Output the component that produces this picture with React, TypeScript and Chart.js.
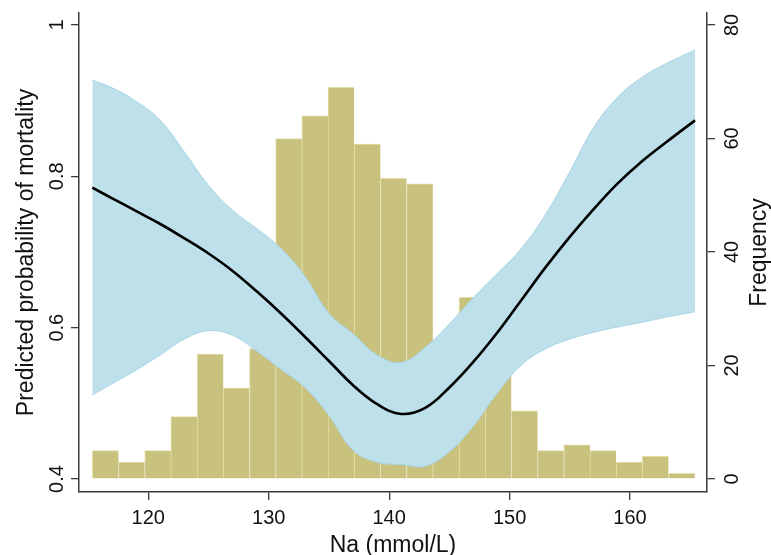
import { useEffect, useRef } from "react";
import { Chart, registerables } from "chart.js";

Chart.register(...registerables);

// ---- data ----
const naValues = [115.35, 117, 119, 121, 123, 125, 127, 129, 131, 133, 135, 137, 139, 141, 143, 145, 147, 149, 151, 153, 155, 157, 159, 161, 163, 165.4];
const predicted = [0.785, 0.771, 0.754, 0.737, 0.718, 0.698, 0.675, 0.648, 0.619, 0.588, 0.556, 0.524, 0.499, 0.486, 0.494, 0.521, 0.555, 0.594, 0.637, 0.680, 0.720, 0.757, 0.791, 0.820, 0.845, 0.874];
const upperCI = [0.927, 0.917, 0.899, 0.874, 0.832, 0.788, 0.755, 0.731, 0.705, 0.668, 0.619, 0.592, 0.564, 0.554, 0.574, 0.605, 0.640, 0.672, 0.705, 0.750, 0.806, 0.865, 0.905, 0.931, 0.949, 0.967];
const lowerCI = [0.511, 0.526, 0.544, 0.564, 0.585, 0.596, 0.590, 0.569, 0.545, 0.521, 0.484, 0.438, 0.422, 0.419, 0.417, 0.436, 0.470, 0.514, 0.551, 0.572, 0.585, 0.594, 0.601, 0.607, 0.614, 0.621];

const binCenters = [116.44, 118.61, 120.79, 122.96, 125.14, 127.31, 129.49, 131.66, 133.84, 136.01, 138.19, 140.36, 142.54, 144.71, 146.89, 149.06, 151.24, 153.41, 155.59, 157.76, 159.94, 162.11, 164.29];
const frequency = [5, 3, 5, 11, 22, 16, 23, 60, 64, 69, 59, 53, 52, 22, 32, 20, 12, 5, 6, 5, 3, 4, 1];

const xTicks = [120, 130, 140, 150, 160];
const xTickLabels = ["120", "130", "140", "150", "160"];
const yTicks = [0.4, 0.6, 0.8, 1];
const yTickLabels = ["0.4", "0.6", "0.8", "1"];
const y1Ticks = [0, 20, 40, 60, 80];
const y1TickLabels = ["0", "20", "40", "60", "80"];

const xTitle = "Na (mmol/L)";
const yTitle = "Predicted probability of mortality";
const y1Title = "Frequency";

// ---- styles ----
const FONT = '"Liberation Sans", Arial, Helvetica, sans-serif';
const AXIS = "#3a3a3a";
const TEXT = "#111111";
const BAR_FILL = "#C9C17E";
const BAR_EDGE = "#E3DDA6";
const BAND_FILL = "#BEE0EA";
const BAND_EDGE = "#A8D4E4";

const labelPlugin = {
  id: "axisLabels",
  afterDraw(chart: any) {
    const { ctx, chartArea, scales } = chart;
    const rot = (txt: string, x: number, y: number) => {
      ctx.save();
      ctx.translate(x, y);
      ctx.rotate(-Math.PI / 2);
      ctx.fillText(txt, 0, 0);
      ctx.restore();
    };
    ctx.save();
    ctx.fillStyle = TEXT;
    ctx.textAlign = "center";
    ctx.textBaseline = "alphabetic";
    ctx.font = `20px ${FONT}`;
    xTicks.forEach((v, i) => ctx.fillText(xTickLabels[i], scales.x.getPixelForValue(v), 524));
    yTicks.forEach((v, i) => rot(yTickLabels[i], 63, scales.y.getPixelForValue(v)));
    y1Ticks.forEach((v, i) => rot(y1TickLabels[i], 738, scales.y1.getPixelForValue(v)));
    ctx.font = `23px ${FONT}`;
    const cy = (chartArea.top + chartArea.bottom) / 2;
    ctx.fillText(xTitle, (chartArea.left + chartArea.right) / 2, 551.5);
    rot(yTitle, 33, cy);
    rot(y1Title, 766, cy);
    ctx.restore();
  },
};

const axisCommon = (fitter: (s: any) => void, ticks: number[], step: number) => ({
  type: "linear" as const,
  offset: false,
  afterBuildTicks: (s: any) => {
    s.ticks = ticks.map((v) => ({ value: v }));
  },
  afterFit: fitter,
  ticks: { display: false, stepSize: step, includeBounds: false },
  grid: { display: true, drawOnChartArea: false, drawTicks: true, tickLength: 8, color: AXIS, lineWidth: 1.3, offset: false },
  border: { display: true, color: AXIS, width: 1.5 },
});

const TENSION = 0.4;

export default function App() {
  const ref = useRef<HTMLCanvasElement | null>(null);

  useEffect(() => {
    if (!ref.current) return;
    const chart = new Chart(ref.current, {
      type: "line",
      data: {
        datasets: [
          {
            type: "line",
            label: "Predicted",
            data: naValues.map((x, i) => ({ x, y: predicted[i] })),
            borderColor: "#000000",
            borderWidth: 2.6,
            pointRadius: 0,
            tension: TENSION,
            fill: false,
            yAxisID: "y",
            order: 0,
          },
          {
            type: "line",
            label: "Upper CI",
            data: naValues.map((x, i) => ({ x, y: upperCI[i] })),
            borderColor: BAND_EDGE,
            borderWidth: 1,
            pointRadius: 0,
            tension: TENSION,
            fill: "+1",
            backgroundColor: BAND_FILL,
            yAxisID: "y",
            order: 2,
          },
          {
            type: "line",
            label: "Lower CI",
            data: naValues.map((x, i) => ({ x, y: lowerCI[i] })),
            borderColor: BAND_EDGE,
            borderWidth: 1,
            pointRadius: 0,
            tension: TENSION,
            fill: false,
            yAxisID: "y",
            order: 1,
          },
          {
            type: "bar",
            label: "Frequency",
            data: binCenters.map((x, i) => ({ x, y: frequency[i] })),
            backgroundColor: BAR_FILL,
            borderColor: BAR_EDGE,
            borderWidth: { top: 1, left: 1, right: 0, bottom: 0 },
            borderSkipped: false,
            barPercentage: 1,
            categoryPercentage: 1,
            xAxisID: "x",
            yAxisID: "y1",
            order: 3,
          },
        ] as any,
      },
      options: {
        responsive: false,
        maintainAspectRatio: false,
        animation: false,
        layout: { padding: { top: 13, left: 0, right: 0, bottom: 0 } },
        plugins: {
          legend: { display: false },
          tooltip: { enabled: false },
          filler: { drawTime: "beforeDatasetDraw" },
        } as any,
        scales: {
          x: {
            ...axisCommon((s) => { s.height = 63; }, xTicks, 10),
            position: "bottom",
            min: 114.245,
            max: 166.393,
          },
          y: {
            ...axisCommon((s) => { s.width = 79; }, yTicks, 0.2),
            position: "left",
            min: 0.38282,
            max: 1.01586,
          },
          y1: {
            ...axisCommon((s) => { s.width = 64; }, y1Ticks, 20),
            position: "right",
            min: -2.2907,
            max: 82.114,
          },
        } as any,
      },
      plugins: [labelPlugin],
    });
    return () => chart.destroy();
  }, []);

  return (
    <div style={{ position: "fixed", left: 0, top: 0, width: 771, height: 555, background: "#ffffff" }}>
      <canvas ref={ref} width={771} height={555} style={{ display: "block" }} />
    </div>
  );
}
